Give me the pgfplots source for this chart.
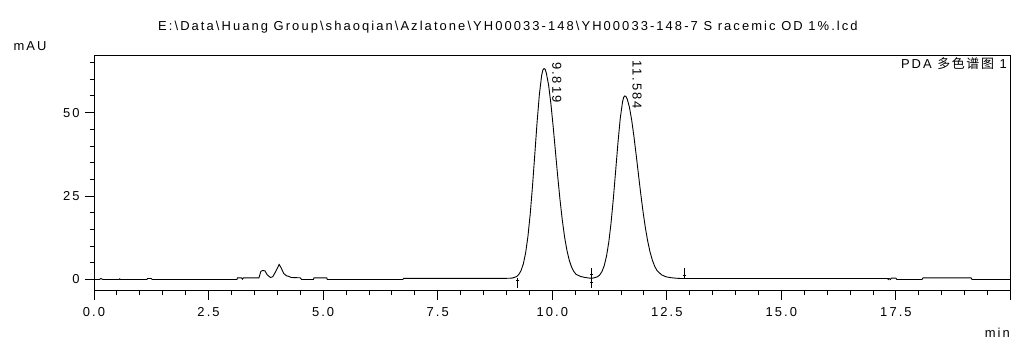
\documentclass[border=0pt]{standalone}
\usepackage{fontspec}
\setmainfont[LetterSpace=16]{Liberation Sans}
\newfontfamily\cjk[LetterSpace=12]{Noto Sans CJK SC}
\usepackage{pgfplots}
\pgfplotsset{compat=1.18}
\begin{document}
\fontsize{13}{15}\selectfont
\begin{tikzpicture}
\begin{axis}[
  at={(94bp,47.3bp)}, anchor=south west,
  scale only axis, width=916.5bp, height=235.2bp,
  xmin=0, xmax=20, ymin=-3.36, ymax=67.1,
  clip=false,
  axis line style={black, line width=1bp},
  tick style={black, line width=0.9bp},
  tick align=outside, tick pos=left,
  major tick length=9bp, minor tick length=4.3bp,
  xtick={0,2.5,5,7.5,10,12.5,15,17.5},
  extra x ticks={20}, extra x tick labels={},
  minor xtick={0.5,1,...,19.5},
  ytick={0,25,50},
  minor ytick={5,10,15,20,30,35,40,45,55,60,65},
  /pgf/number format/assume math mode=true,
  xticklabel style={/pgf/number format/fixed, /pgf/number format/fixed zerofill, /pgf/number format/precision=1, yshift=-3.5bp},
  yticklabel style={xshift=-1bp},
]
\addplot[black, line width=0.9bp] coordinates {
(0,0) (0.12,0) (0.15,0.3) (0.19,0) (0.55,0) (0.56,0.2) (0.58,0) (1.15,0) (1.17,0.3) (1.25,0.3) (1.27,0)
(3.12,0) (3.13,0.5) (3.22,0.5) (3.24,0.1) (3.26,0.5) (3.6,0.5) (3.64,2.4) (3.68,2.7) (3.73,2.6) (3.78,1.4)
(3.85,0.6) (3.9,0.8) (3.97,2.5) (4.04,4.5) (4.08,3.6) (4.14,1.8) (4.2,1.1) (4.26,0.9) (4.3,0.6) (4.5,0.5)
(4.53,0) (4.79,0) (4.8,0.5) (5.08,0.5) (5.09,0) (6.74,0) (6.76,0.35) (9.0,0.35)
(9.119,0.40) (9.219,0.85) (9.269,1.48) (9.319,2.65) (9.369,4.69) (9.419,7.97) (9.469,12.86) (9.519,19.56)
(9.569,27.95) (9.619,37.47) (9.669,47.09) (9.719,55.45) (9.769,61.17) (9.794,62.7) (9.819,63.2) (9.844,63.0)
(9.869,61.95) (9.919,58.36) (9.969,52.84) (10.019,45.97) (10.069,38.45) (10.119,30.92) (10.169,23.91)
(10.219,17.79) (10.269,12.75) (10.319,8.81) (10.369,5.89) (10.419,3.83) (10.469,2.44) (10.519,1.55)
(10.619,0.9) (10.719,0.6) (10.819,0.4)
(10.884,0.4) (10.984,0.78) (11.034,1.32) (11.084,2.35) (11.134,4.12) (11.184,6.97) (11.234,11.22)
(11.284,17.05) (11.334,24.35) (11.384,32.63) (11.434,40.99) (11.484,48.26) (11.534,53.23) (11.559,54.6)
(11.584,55.0) (11.609,54.8) (11.634,54.14) (11.684,51.62) (11.734,47.69) (11.784,42.68) (11.834,37.02)
(11.884,31.11) (11.934,25.34) (11.984,20.01) (12.034,15.34) (12.084,11.41) (12.134,8.25) (12.184,5.81)
(12.234,4.0) (12.284,2.7) (12.384,1.4) (12.484,0.8) (12.584,0.55) (12.684,0.4) (12.8,0.3)
(17.32,0.3) (17.33,0) (17.35,0.3) (17.38,0) (17.4,0.4) (17.5,0.4) (17.52,0) (18.07,0) (18.09,0.5)
(19.14,0.5) (19.16,0) (20,0)
};
% integration markers
\addplot[black, line width=0.8bp] coordinates {(9.25,0.36) (9.25,-2.64)};
\addplot[black, line width=0.8bp] coordinates {(10.86,3.45) (10.86,-2.55)};
\addplot[black, line width=0.8bp] coordinates {(12.89,3.35) (12.89,0.54)};
\addplot[black, only marks, mark=-, mark size=1.6bp, mark options={line width=0.8bp}] coordinates {(9.25,-0.15) (10.86,1.65) (10.86,-0.75) (12.89,1.3)};
% peak labels
\node[rotate=-90, anchor=west, inner sep=0pt] at (axis cs:10.10,65.2) {9.819};
\node[rotate=-90, anchor=west, inner sep=0pt] at (axis cs:11.85,65.8) {11.584};
% texts
\node[inner sep=0pt] at (rel axis cs:0.4517,1.119) {E:\textbackslash Data\textbackslash Huang Group\textbackslash shaoqian\textbackslash Azlatone\textbackslash YH00033-148\textbackslash YH00033-148-7 S racemic OD 1\%.lcd};
\node[inner sep=0pt] at (rel axis cs:-0.0698,1.0404) {mAU};
\node[inner sep=0pt, anchor=east] at (rel axis cs:0.9995,-0.1777) {min};
\node[inner sep=0pt, anchor=east] at (rel axis cs:0.9962,0.9639) {PDA {\cjk 多色谱图} 1};
\end{axis}
\pgfresetboundingbox
\path[use as bounding box] (0,0) rectangle (1013bp,338bp);
\end{tikzpicture}
\end{document}
